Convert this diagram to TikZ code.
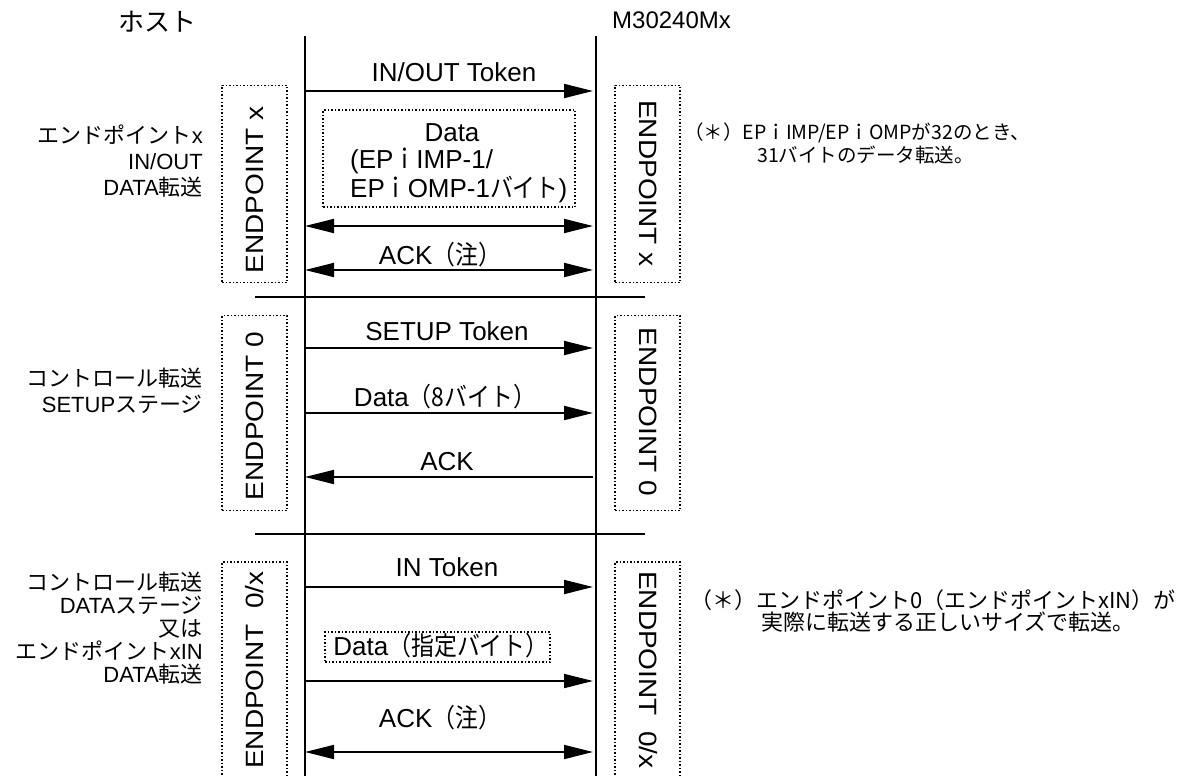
\documentclass[tikz,border=0pt]{standalone}
\usepackage{fontspec}
\setmainfont{Liberation Sans}
\newfontfamily\jp{Noto Sans CJK JP}
\newfontfamily\jpc[FakeStretch=0.88]{Noto Sans CJK JP}
\newfontfamily\epf[FakeStretch=1.12]{Liberation Sans}
\usetikzlibrary{arrows.meta}
\newcommand\J[1]{{\jp #1}}
\newcommand\JC[1]{{\jpc #1}}
\newcommand\fs[1]{\fontsize{#1}{#1}\selectfont}
\begin{document}
\begin{tikzpicture}[x=1pt,y=-1pt,
  life/.style={line width=1.8pt},
  msg/.style={line width=1.8pt,-{Triangle[length=29pt,width=14pt]}},
  dmsg/.style={line width=1.8pt,{Triangle[length=29pt,width=14pt]}-{Triangle[length=29pt,width=14pt]}},
  sep/.style={line width=1.8pt},
  dotbox/.style={draw,line width=1.5pt,dotted,inner sep=0pt},
  lbl/.style={inner sep=0pt,font=\fs{26}},
  ep/.style={inner sep=0pt,font=\epf\fs{25}},
  side/.style={inner sep=0pt,align=right,anchor=east,font=\fs{22}},
  note/.style={inner sep=0pt,anchor=west}]
\clip (0,0) rectangle (1195,776);
\fill[white] (0,0) rectangle (1195,776);
% titles
\node[inner sep=0pt,font=\jp\fs{26}] (host) at (157,22) {ホスト};
\node[inner sep=0pt,anchor=west,font=\fs{24}] (dev) at (612,20) {M30240Mx};
% lifelines
\coordinate (ht) at (305,36); \coordinate (hb) at (305,790);
\coordinate (dt) at (596,36); \coordinate (db) at (596,790);
\draw[life] (ht) -- (hb);
\draw[life] (dt) -- (db);
% separators
\coordinate (s1a) at (255,297); \coordinate (s1b) at (645,297);
\coordinate (s2a) at (255,534); \coordinate (s2b) at (645,534);
\draw[sep] (s1a) -- (s1b);
\draw[sep] (s2a) -- (s2b);
% message anchor points
\foreach \n/\y in {1/91,2/226,3/270,4/348,5/413,6/477,7/587,8/681,9/752}{
  \coordinate (h\n) at (305,\y); \coordinate (d\n) at (593,\y);}
% ---- section 1
\node[dotbox,minimum width=65,minimum height=197] (lb1) at (254.5,184) {};
\node[dotbox,minimum width=65,minimum height=197] (rb1) at (647.5,184) {};
\node[ep,rotate=90] (le1) at (255,190) {ENDPOINT x};
\node[ep,rotate=-90] (re1) at (648,183.5) {ENDPOINT x};
\draw[msg] (h1) -- (d1);
\node[lbl] (m1) at (454,72) {IN/OUT Token};
\node[dotbox,minimum width=252,minimum height=97] (db1) at (449,158.5) {};
\node[lbl] (dt1) at (452,133) {Data};
\node[lbl,anchor=west] (dt2) at (350,161) {(EP\JC{ｉ}IMP-1/};
\node[lbl,anchor=west] (dt3) at (350,190) {EP\JC{ｉ}OMP-1\JC{バイト})};
\draw[dmsg] (h2) -- (d2);
\node[lbl] (m3) at (440,255) {ACK\JC{（注）}};
\draw[dmsg] (h3) -- (d3);
\node[side] (sl1) at (203,161) {\J{エンドポイント}x\\[4pt]IN/OUT\\[4pt]DATA\J{転送}};
\node[note,font=\jp\fs{19.5}] (n1a) at (684,133) {（＊）EPｉIMP/EPｉOMPが32のとき、};
\node[note,font=\jp\fs{19.5}] (n1b) at (757,155) {31バイトのデータ転送。};
% ---- section 2
\node[dotbox,minimum width=65,minimum height=195] (lb2) at (254.5,413) {};
\node[dotbox,minimum width=65,minimum height=195] (rb2) at (647.5,413) {};
\node[ep,rotate=90] (le2) at (255,416) {ENDPOINT 0};
\node[ep,rotate=-90] (re2) at (648,412) {ENDPOINT 0};
\draw[msg] (h4) -- (d4);
\node[lbl] (m4) at (447,331) {SETUP Token};
\draw[msg] (h5) -- (d5);
\node[lbl] (m5) at (445,397) {Data\JC{（8バイト）}};
\draw[msg] (d6) -- (h6);
\node[lbl] (m6) at (447,462) {ACK};
\node[side] (sl2) at (203,391) {\J{コントロール転送}\\[4pt]SETUP\J{ステージ}};
% ---- section 3
\node[dotbox,minimum width=65,minimum height=240] (lb3) at (254.5,682) {};
\node[dotbox,minimum width=65,minimum height=240] (rb3) at (647.5,682) {};
\node[ep,rotate=90] (le3) at (255,670) {ENDPOINT\ \ 0/x};
\node[ep,rotate=-90] (re3) at (648,670) {ENDPOINT\ \ 0/x};
\draw[msg] (h7) -- (d7);
\node[lbl] (m7) at (447,567) {IN Token};
\node[dotbox,minimum width=225,minimum height=30] (db3) at (437.5,647) {};
\node[lbl] (dt4) at (441,646) {Data\JC{（指定バイト）}};
\draw[msg] (h8) -- (d8);
\node[lbl] (m9) at (440,718) {ACK\JC{（注）}};
\draw[dmsg] (h9) -- (d9);
\node[side] (sl3) at (203,628) {\J{コントロール転送}\\[1pt]DATA\J{ステージ}\\[1pt]\J{又は}\\[1pt]\J{エンドポイント}xIN\\[1pt]DATA\J{転送}};
\node[note,font=\jp\fs{22}] (n2a) at (690,600) {（＊）エンドポイント0（エンドポイントxIN）が};
\node[note,font=\jp\fs{22}] (n2b) at (761,622) {実際に転送する正しいサイズで転送。};
\end{tikzpicture}
\end{document}
